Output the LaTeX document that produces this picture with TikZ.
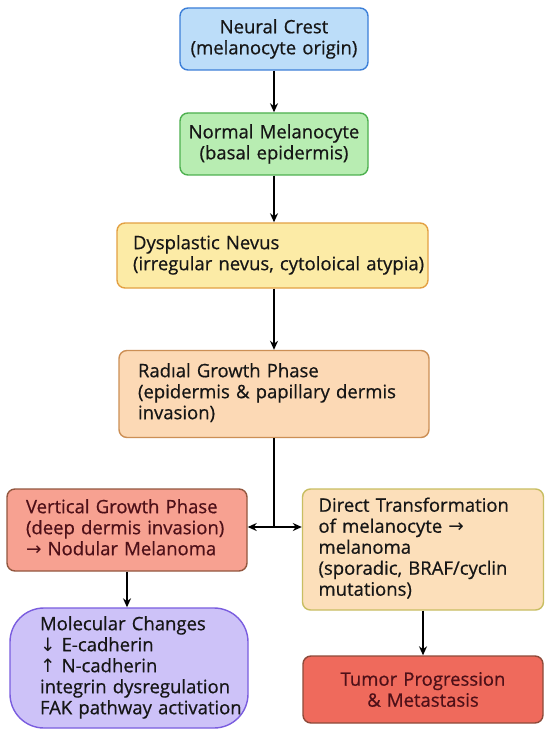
\documentclass[tikz,border=0pt]{standalone}
\usepackage{fontspec}
\setmainfont[FakeBold=0.6]{Open Sans}
\newfontfamily\arrowfont{DejaVu Sans}
\usetikzlibrary{arrows.meta}
\definecolor{crestfill}{HTML}{BCDDF9}
\definecolor{crestline}{HTML}{3C7FD8}
\definecolor{normalfill}{HTML}{B8EDB2}
\definecolor{normalline}{HTML}{4DB04F}
\definecolor{nevusfill}{HTML}{FCEBA6}
\definecolor{nevusline}{HTML}{E3A043}
\definecolor{radialfill}{HTML}{FCD9B5}
\definecolor{radialline}{HTML}{CC8F55}
\definecolor{vertfill}{HTML}{F7A191}
\definecolor{vertline}{HTML}{93573F}
\definecolor{directfill}{HTML}{FCDFBA}
\definecolor{directline}{HTML}{C8BE62}
\definecolor{molfill}{HTML}{CDC2F8}
\definecolor{molline}{HTML}{7A5DDF}
\definecolor{tumorfill}{HTML}{EF6A5C}
\definecolor{tumorline}{HTML}{8E4A3A}
\definecolor{textdark}{HTML}{161616}
\definecolor{textmaroon}{HTML}{4E1018}
\newcommand{\arr}[1]{{\arrowfont #1}}
\newcommand{\stagelines}[2]{\begin{tabular}{@{\hspace{#1}}l@{}}#2\end{tabular}}
\tikzset{
  stage/.style={
    rectangle,
    rounded corners=8pt,
    line width=1.4pt,
    inner xsep=0pt,
    inner ysep=0pt,
    text=textdark,
    font=\fontsize{18.5}{21}\selectfont,
  },
  link/.style={
    -{Stealth[length=9pt,width=8pt]},
    line width=1.4pt,
  }
}

\begin{document}
\begin{tikzpicture}[x=1pt, y=-1pt]
  \useasboundingbox[fill=white] (0, 0) rectangle (550, 735);

  \node[stage, fill=crestfill, draw=crestline, text width=188pt,
    minimum height=62pt, align=center] (crest) at (274, 39)
    {Neural Crest\\(melanocyte origin)};
  \node[stage, fill=normalfill, draw=normalline, text width=188pt,
    minimum height=62pt, align=center] (normal) at (274, 144)
    {Normal Melanocyte\\(basal epidermis)};
  \node[stage, fill=nevusfill, draw=nevusline, text width=311pt,
    minimum height=65pt, align=left] (nevus) at (272.5, 255.5)
    {\stagelines{16pt}{Dysplastic Nevus\\(irregular nevus, cytoloical atypia)}};
  \node[stage, fill=radialfill, draw=radialline, text width=310pt,
    minimum height=87pt, align=left] (radial) at (274, 394)
    {\stagelines{19pt}{Radıal Growth Phase\\(epidermis \& papillary dermis\\invasion)}};
  \node[stage, fill=vertfill, draw=vertline, text=textmaroon, text width=240pt,
    minimum height=82pt, align=left] (vertical) at (127, 530)
    {\stagelines{19pt}{Vertical Growth Phase\\(deep dermis invasion)\\\arr{→} Nodular Melanoma}};
  \node[stage, fill=directfill, draw=directline, text width=241pt,
    minimum height=121pt, align=left] (direct) at (423, 549.5)
    {\stagelines{16pt}{Direct Transformation\\of melanocyte \arr{→}\\melanoma\\(sporadic, BRAF/cyclin\\mutations)}};
  \node[stage, rounded corners=34pt, fill=molfill, draw=molline, text width=238pt,
    minimum height=120pt, align=left] (molecular) at (129, 668)
    {\stagelines{30pt}{Molecular Changes\\\arr{↓} E-cadherin\\\arr{↑} N-cadherin\\integrin dysregulation\\FAK pathway activation}};
  \node[stage, fill=tumorfill, draw=tumorline, text=textmaroon, text width=240pt,
    minimum height=67pt, align=center] (tumor) at (423, 689.5)
    {Tumor Progression\\\& Metastasis};

  \coordinate (split) at (274, 527);

  \draw[link] (crest) -- (normal);
  \draw[link] (normal) -- (normal |- nevus.north);
  \draw[link] (nevus.south -| radial.north) -- (radial);
  \draw[line width=1.4pt] (radial) -- (split);
  \draw[link] (split) -- (split -| vertical.east);
  \draw[link] (split) -- (split -| direct.west);
  \draw[link] (vertical) -- (vertical |- molecular.north);
  \draw[link] (direct) -- (direct |- tumor.north);

\end{tikzpicture}
\end{document}
